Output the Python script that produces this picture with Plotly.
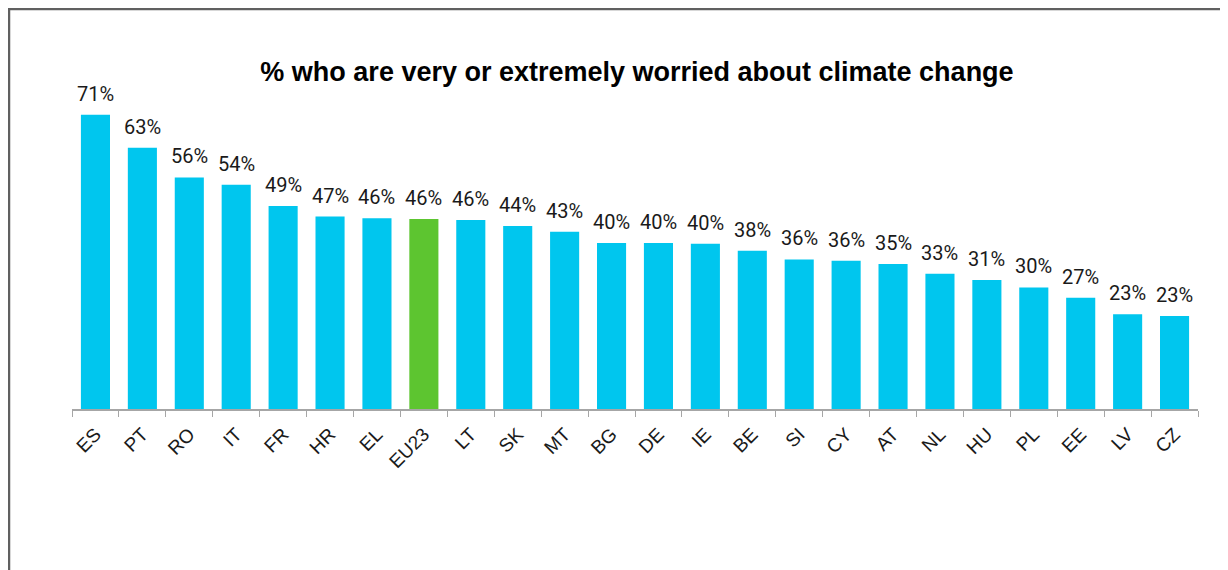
import plotly.graph_objects as go

countries = ["ES", "PT", "RO", "IT", "FR", "HR", "EL", "EU23", "LT", "SK", "MT", "BG",
             "DE", "IE", "BE", "SI", "CY", "AT", "NL", "HU", "PL", "EE", "LV", "CZ"]
values = [71.4, 63.4, 56.2, 54.4, 49.3, 46.7, 46.3, 46.1, 45.9, 44.4, 43.0, 40.3,
          40.3, 40.1, 38.4, 36.3, 36.0, 35.2, 32.8, 31.3, 29.5, 27.0, 23.0, 22.6]
labels = ["71%", "63%", "56%", "54%", "49%", "47%", "46%", "46%", "46%", "44%", "43%", "40%",
          "40%", "40%", "38%", "36%", "36%", "35%", "33%", "31%", "30%", "27%", "23%", "23%"]

CYAN = "#00C6EE"
GREEN = "#5DC530"
colors = [GREEN if c == "EU23" else CYAN for c in countries]

fig = go.Figure(go.Bar(
    x=countries, y=values,
    marker=dict(color=colors, line=dict(width=0)),
    hoverinfo="x+y",
))

for c, v, t in zip(countries, values, labels):
    fig.add_annotation(x=c, y=v, text=t, showarrow=False, yanchor="bottom", xanchor="center",
                       yshift=7, font=dict(family="Roboto", size=20, color="#1a1a1a"))

W, H = 1228, 570
L, R, T, B = 64, 38, 62, 169
pw, ph = W - L - R, H - T - B

fig.update_layout(
    width=W, height=H,
    margin=dict(l=L, r=R, t=T, b=B),
    paper_bgcolor="white", plot_bgcolor="white",
    bargap=0.38, showlegend=False,
    title=dict(text="<b>% who are very or extremely worried about climate change</b>",
               x=629 / W, xanchor="center", y=1 - 64 / H, yanchor="middle",
               font=dict(family="Liberation Sans", size=27, color="#000000")),
    xaxis=dict(showline=True, linecolor="#A6A6A6", linewidth=1.5,
               ticks="outside", tickson="boundaries", ticklen=6, tickcolor="#A6A6A6",
               tickangle=-45, ticklabelstandoff=5,
               tickfont=dict(family="Liberation Sans", size=19, color="#1a1a1a"),
               showgrid=False),
    yaxis=dict(range=[0, ph / 4.12], visible=False, showgrid=False, zeroline=False),
    shapes=[dict(type="rect", xref="paper", yref="paper",
                 x0=(1 - L) / pw, x1=(1218 - L) / pw,
                 y0=(H - B - 600) / ph, y1=(H - B - 1) / ph,
                 line=dict(color="#606060", width=2.5), fillcolor="rgba(0,0,0,0)", layer="below")],
)

fig.write_html("out.html")
